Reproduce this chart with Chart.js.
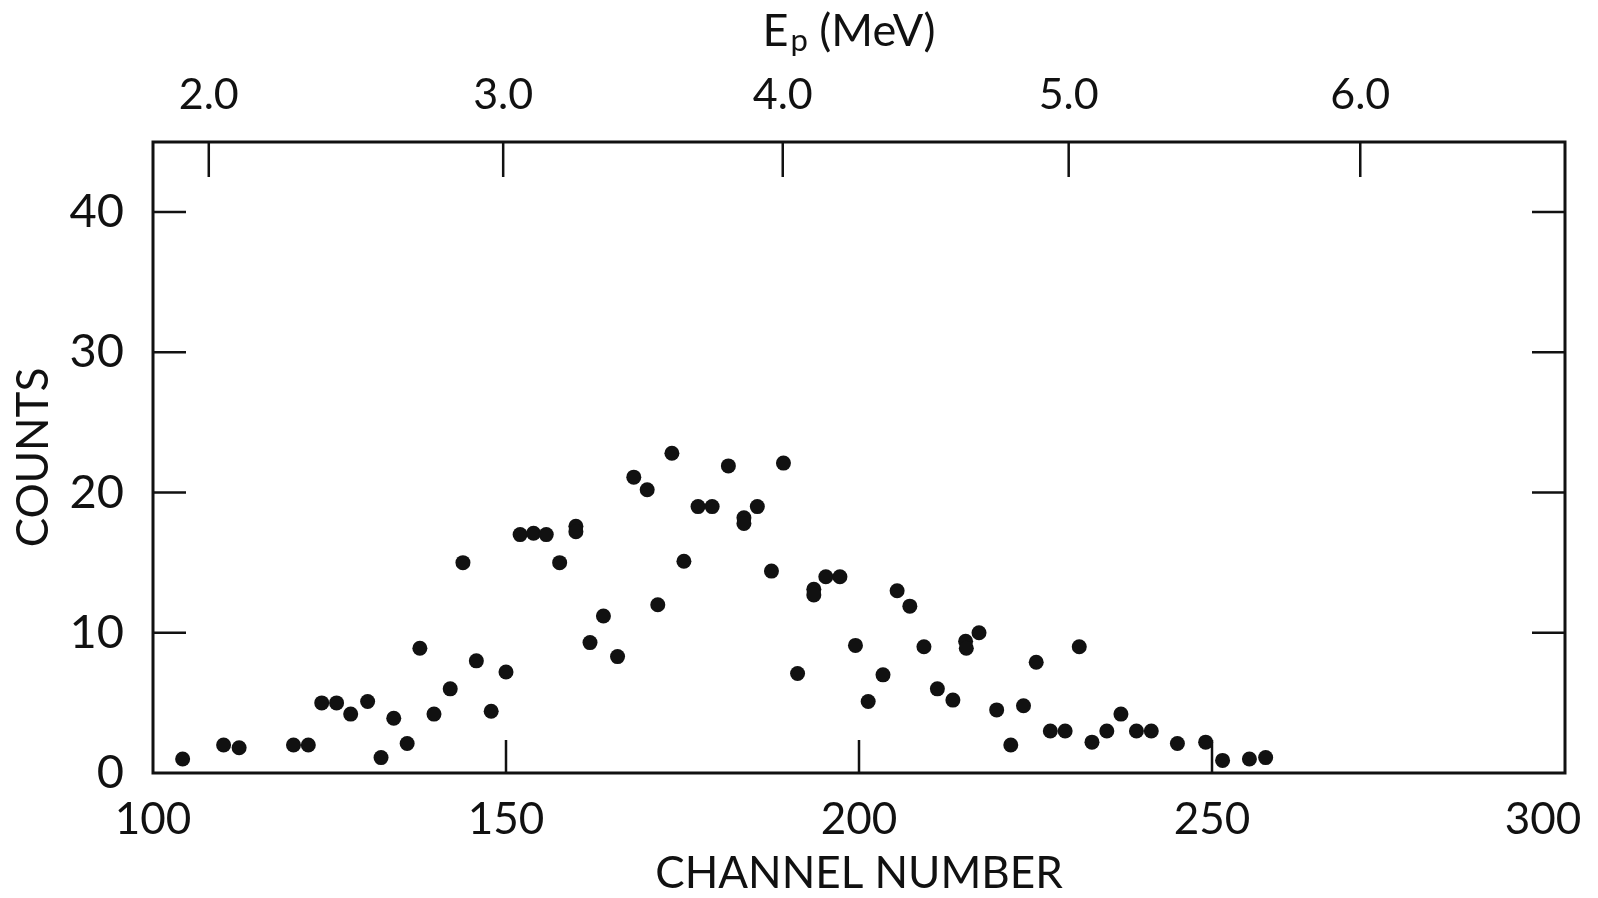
<!DOCTYPE html>
<html>
<head>
<meta charset="utf-8">
<script src="https://cdn.jsdelivr.net/npm/chart.js@4.4.0/dist/chart.umd.min.js"></script>
<style>
  html, body { margin: 0; padding: 0; background: #fff; }
  #wrap { width: 1598px; height: 898px; }
</style>
</head>
<body>
<div id="wrap"><canvas id="grafica"></canvas></div>
<script>
// canal y cuentas
const channels = [104.2, 110.0, 112.2, 119.9, 122.0, 123.9, 126.0, 128.0, 130.4, 132.3,
  134.1, 136.0, 137.8, 139.8, 142.1, 143.9, 145.8, 147.9, 150.0, 152.0,
  153.9, 155.7, 157.6, 159.9, 159.9, 161.9, 163.8, 165.8, 168.1, 170.0,
  171.5, 173.5, 175.2, 177.2, 179.2, 181.5, 183.7, 183.7, 185.6, 187.6,
  189.3, 191.3, 193.6, 193.6, 195.3, 197.3, 199.5, 201.3, 203.4, 205.4,
  207.2, 209.2, 211.1, 213.3, 215.1, 215.2, 217.0, 219.5, 221.5, 223.3,
  225.1, 227.1, 229.2, 231.2, 233.0, 235.1, 237.1, 239.3, 241.4, 245.1,
  249.1, 251.5, 255.3, 257.6];
const counts = [1.0, 2.0, 1.8, 2.0, 2.0, 5.0, 5.0, 4.2, 5.1, 1.1,
  3.9, 2.1, 8.9, 4.2, 6.0, 15.0, 8.0, 4.4, 7.2, 17.0,
  17.1, 17.0, 15.0, 17.6, 17.2, 9.3, 11.2, 8.3, 21.1, 20.2,
  12.0, 22.8, 15.1, 19.0, 19.0, 21.9, 18.2, 17.8, 19.0, 14.4,
  22.1, 7.1, 13.1, 12.7, 14.0, 14.0, 9.1, 5.1, 7.0, 13.0,
  11.9, 9.0, 6.0, 5.2, 9.4, 8.9, 10.0, 4.5, 2.0, 4.8,
  7.9, 3.0, 3.0, 9.0, 2.2, 3.0, 4.2, 3.0, 3.0, 2.1,
  2.2, 0.9, 1.0, 1.1];

const countTicks = [0, 10, 20, 30, 40];
const channelTicks = [100, 150, 200, 250, 300];
// eje superior: energía del protón en el canal correspondiente
const epLabels = ["2.0", "3.0", "4.0", "5.0", "6.0"];
const epChannels = [107.9, 149.6, 189.2, 229.7, 271.0];

const INK = "#111";
const FONT = "Lato, 'DejaVu Sans', sans-serif";

const marcoPlugin = {
  id: "marco",
  afterDraw(chart) {
    const { ctx, chartArea: a, scales } = chart;
    ctx.save();
    ctx.strokeStyle = INK;
    ctx.lineWidth = 3;
    ctx.strokeRect(a.left, a.top, a.right - a.left, a.bottom - a.top);

    ctx.lineWidth = 2.5;
    ctx.beginPath();
    countTicks.slice(1).forEach(v => {
      const y = scales.y.getPixelForValue(v);
      ctx.moveTo(a.left, y); ctx.lineTo(a.left + 33, y);
      ctx.moveTo(a.right, y); ctx.lineTo(a.right - 33, y);
    });
    channelTicks.slice(1, -1).forEach(v => {
      const x = scales.x.getPixelForValue(v);
      ctx.moveTo(x, a.bottom); ctx.lineTo(x, a.bottom - 33);
    });
    epChannels.forEach(v => {
      const x = scales.x2.getPixelForValue(v);
      ctx.moveTo(x, a.top); ctx.lineTo(x, a.top + 35);
    });
    ctx.stroke();

    // titulo superior con subindice: Ep (MeV)
    const big = "45px " + FONT;
    const small = "31px " + FONT;
    ctx.fillStyle = INK;
    ctx.textBaseline = "alphabetic";
    ctx.font = big;
    const wE = ctx.measureText("E").width;
    const wRest = ctx.measureText(" (MeV)").width;
    ctx.font = small;
    const wP = ctx.measureText("p").width;
    let x = (a.left + a.right) / 2 - 11 - (wE + wP + wRest) / 2;
    const base = 46;
    ctx.font = big;
    ctx.fillText("E", x, base);
    x += wE + 2;
    ctx.font = small;
    ctx.fillText("p", x, base + 5);
    x += wP;
    ctx.font = big;
    ctx.fillText(" (MeV)", x, base);
    ctx.restore();
  }
};

const ctx = document.getElementById("grafica").getContext("2d");

const chart = new Chart(ctx, {
  type: "scatter",
  data: {
    datasets: [{
      label: "Counts",
      data: channels.map((c, i) => ({ x: c, y: counts[i] })),
      xAxisID: "x",
      yAxisID: "y",
      pointRadius: 7.5,
      pointHoverRadius: 7.5,
      pointBackgroundColor: INK,
      pointBorderWidth: 0,
      showLine: false
    }]
  },
  options: {
    responsive: true,
    maintainAspectRatio: false,
    animation: false,
    layout: { padding: { left: 0, right: 33, top: 0, bottom: 0 } },
    plugins: { legend: { display: false }, tooltip: { enabled: false } },
    scales: {
      x: {
        type: "linear",
        position: "bottom",
        min: 100,
        max: 300,
        grid: { display: false, drawTicks: false },
        border: { display: false },
        afterBuildTicks: (s) => { s.ticks = channelTicks.map(v => ({ value: v })); },
        afterFit: (s) => { s.height = 125; s.paddingLeft = 0; s.paddingRight = 0; },
        ticks: {
          color: INK,
          padding: 20,
          font: { family: FONT, size: 44 },
          maxRotation: 0,
          autoSkip: false,
          callback: (v) => v === 300 ? "300\u2002\u2002" : String(v)
        },
        title: {
          display: true,
          text: "CHANNEL NUMBER",
          color: INK,
          padding: { top: 0, bottom: 2 },
          font: { family: FONT, size: 44, lineHeight: 1 }
        }
      },
      x2: {
        type: "linear",
        position: "top",
        min: 100,
        max: 300,
        grid: { display: false, drawTicks: false },
        border: { display: false },
        afterBuildTicks: (s) => { s.ticks = epChannels.map(v => ({ value: v })); },
        afterFit: (s) => { s.height = 142; s.paddingLeft = 0; s.paddingRight = 0; },
        ticks: {
          color: INK,
          padding: 21,
          font: { family: FONT, size: 43 },
          maxRotation: 0,
          autoSkip: false,
          callback: (v, i) => epLabels[i]
        }
      },
      y: {
        type: "linear",
        position: "left",
        min: 0,
        max: 45,
        grid: { display: false, drawTicks: false },
        border: { display: false },
        afterBuildTicks: (s) => { s.ticks = countTicks.map(v => ({ value: v })); },
        afterFit: (s) => { s.width = 153; s.paddingTop = 0; s.paddingBottom = 0; },
        ticks: {
          color: INK,
          padding: 29,
          font: { family: FONT, size: 47 }
        },
        title: {
          display: true,
          text: "COUNTS",
          color: INK,
          padding: { top: 12, bottom: 0 },
          font: { family: FONT, size: 44, lineHeight: 1 }
        }
      }
    }
  },
  plugins: [marcoPlugin]
});
</script>
</body>
</html>
